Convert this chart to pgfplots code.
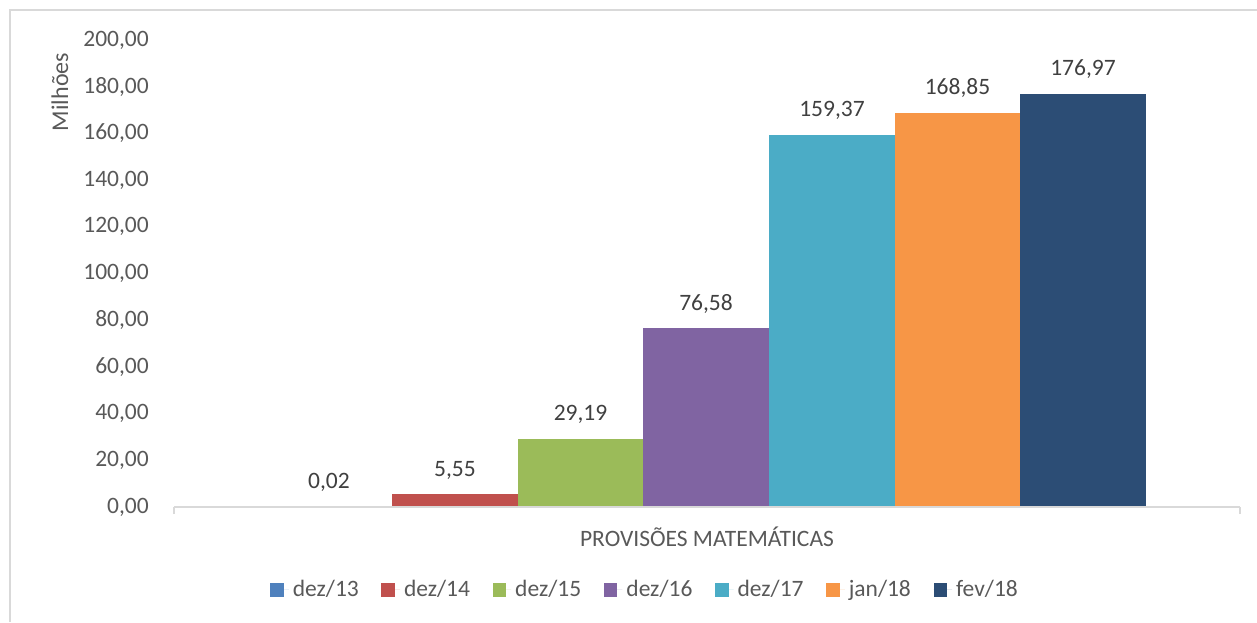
\documentclass[border=0pt]{standalone}
\usepackage{fontspec}
\setmainfont{Carlito}
\usepackage{pgfplots}
\pgfplotsset{compat=1.18}
\definecolor{c1}{HTML}{4F81BD}
\definecolor{c2}{HTML}{C0504D}
\definecolor{c3}{HTML}{9BBB59}
\definecolor{c4}{HTML}{8064A2}
\definecolor{c5}{HTML}{4BACC6}
\definecolor{c6}{HTML}{F79646}
\definecolor{c7}{HTML}{2C4D75}
\definecolor{txt}{HTML}{595959}
\definecolor{lbl}{HTML}{404040}
\definecolor{framec}{HTML}{D9D9D9}
\begin{document}
\fontsize{11.75pt}{14pt}\selectfont
\begin{tikzpicture}
\useasboundingbox (0,0) rectangle (628.5pt,311pt);
\draw[framec, line width=0.7pt] (5pt,0) -- (5pt,306pt) -- (628.5pt,306pt);
\node[rotate=90, text=txt, font=\fontsize{12pt}{14pt}\selectfont] at (30pt,265pt) {Milhões};
\begin{axis}[
  at={(87pt,57.5pt)}, anchor=south west,
  scale only axis, width=533pt, height=233.5pt,
  xmin=0, xmax=1066, ymin=0, ymax=200,
  ybar, bar width=125.7, bar shift=0pt,
  axis on top,
  axis x line*=bottom, axis y line*=left,
  y axis line style={draw=none},
  x axis line style={framec, line width=1pt},
  xtick={0,1066}, xticklabels={,},
  tick align=outside,
  x tick style={framec, line width=1pt},
  major tick length=3.5pt,
  ytick={0,20,...,200},
  y tick style={draw=none},
  yticklabel style={text=txt, font=\fontsize{11.75pt}{14pt}\selectfont, xshift=-5pt},
  /pgf/number format/.cd, fixed, fixed zerofill, precision=2, use comma, 1000 sep={}, assume math mode=true,
  /pgfplots/.cd,
  nodes near coords={\pgfmathprintnumber[fixed,fixed zerofill,precision=2,use comma,assume math mode=true]{\pgfplotspointmeta}},
  every node near coord/.append style={text=lbl, font=\fontsize{11.75pt}{14pt}\selectfont, anchor=base, yshift=9pt},
  legend columns=7,
  legend style={draw=none, fill=none, at={(0.4428,-0.1777)}, anchor=center, text=txt,
    font=\fontsize{11.75pt}{14pt}\selectfont,
    /tikz/every even column/.append style={column sep=9.3pt}},
  legend image code/.code={\fill[#1] (0pt,-3.4pt) rectangle (6.8pt,3.4pt); \path (0pt,0pt) -- (9.3pt,0pt);},
  clip=false,
]
\addplot[fill=c1, draw=none] coordinates {(155,0.02)};
\addplot[fill=c2, draw=none] coordinates {(281,5.55)};
\addplot[fill=c3, draw=none] coordinates {(406.5,29.19)};
\addplot[fill=c4, draw=none] coordinates {(532,76.58)};
\addplot[fill=c5, draw=none] coordinates {(658,159.37)};
\addplot[fill=c6, draw=none] coordinates {(783.5,168.85)};
\addplot[fill=c7, draw=none] coordinates {(909,176.97)};
\legend{dez/13,dez/14,dez/15,dez/16,dez/17,jan/18,fev/18}
\node[text=txt, font=\fontsize{11.75pt}{14pt}\selectfont] at (rel axis cs:0.5,-0.0642) {PROVISÕES MATEMÁTICAS};
\end{axis}
\end{tikzpicture}
\end{document}
